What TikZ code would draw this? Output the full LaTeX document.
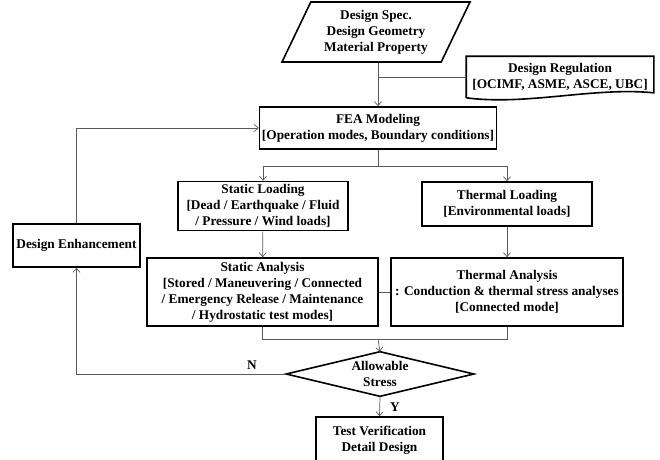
\documentclass[tikz,border=0pt]{standalone}
\usepackage{fontspec}
\setmainfont{Liberation Serif}
\definecolor{linegray}{RGB}{90, 90, 90}
\usetikzlibrary{arrows.meta,positioning,shapes.geometric}

\begin{document}
\begin{tikzpicture}[x=1pt, y=-1pt,
    box/.style={rectangle, draw, line width=1.6pt, align=center, inner sep=1pt,
        font=\fontsize{13.3}{16}\selectfont\bfseries},
    conn/.style={draw=linegray, line width=0.7pt},
    tip/.style={-{Straight Barb[length=4pt, width=7pt]}}]
    \clip (0,0) rectangle (660,459);
    \node[box, trapezium, trapezium left angle=58, trapezium right angle=122,
        trapezium stretches body, minimum width=188pt, minimum height=60pt] (spec) at (376,32)
        {Design Spec.\\Design Geometry\\Material Property};
    \node[box, draw=none, minimum width=186pt, minimum height=40pt] (reg) at (560,77)
        {Design Regulation\\{[}OCIMF, ASME, ASCE, UBC{]}};
    \draw[line width=1.6pt] (reg.south west) -- (reg.north west) -- (reg.north east)
        -- ([yshift=5pt]reg.south east) .. controls +(-60,-6) and +(60,8) .. (reg.south west);
    \node[box, minimum width=237pt, minimum height=42pt] (fea) at (378,128)
        {FEA Modeling\\{[}Operation modes, Boundary conditions{]}};
    \node[box, minimum width=170pt, minimum height=49pt] (sload) at (263,206)
        {Static Loading\\{[}Dead / Earthquake / Fluid\\/ Pressure / Wind loads{]}};
    \node[box, minimum width=170pt, minimum height=44pt] (tload) at (507,204)
        {Thermal Loading\\{[}Environmental loads{]}};
    \node[box, minimum width=231pt, minimum height=68pt] (sana) at (262.5,292)
        {Static Analysis\\{[}Stored / Maneuvering / Connected\\/ Emergency Release / Maintenance\\/ Hydrostatic test modes{]}};
    \node[box, minimum width=232pt, minimum height=68pt] (tana) at (507,292)
        {Thermal Analysis\\: Conduction \& thermal stress analyses\\{[}Connected mode{]}};
    \node[box, draw=none, inner sep=0pt, minimum width=186pt, minimum height=43pt] (allow) at (380,374)
        {Allowable\\Stress};
    \draw[line width=1.6pt] (allow.west) -- (allow.north) -- (allow.east) -- (allow.south) -- cycle;
    \node[box, minimum width=127pt, minimum height=43pt] (enh) at (76.5,245.5)
        {Design Enhancement};
    \node[box, minimum width=127pt, minimum height=46pt] (test) at (379.5,440)
        {Test Verification\\Detail Design};

    \coordinate (split) at (378,166);
    \coordinate (merge) at (378,339);
    \draw[conn, tip] (spec.south -| fea.north) -- (fea.north);
    \draw[conn] (reg.west) -- (reg.west -| fea.north);
    \draw[conn] (fea.south) -- (split);
    \draw[conn, tip] (split) -| (sload.north);
    \draw[conn, tip] (split) -| (tload.north);
    \draw[conn, tip] (sload) -- (sana);
    \draw[conn, tip] (tload) -- (tana);
    \draw[conn] (sana.east) -- (tana.west);
    \draw[conn] (sana.south) |- (merge);
    \draw[conn] (tana.south) |- (merge);
    \draw[conn, tip] (merge) -- (allow.north);
    \draw[conn, tip] (allow.west) -| (enh.south);
    \draw[conn, tip] (enh.north) |- (fea.west);
    \draw[conn, tip] (allow.south) -- (test.north);
    \node[font=\fontsize{13.3}{16}\selectfont\bfseries] (nlabel) at (252,365) {N};
    \node[font=\fontsize{13.3}{16}\selectfont\bfseries] (ylabel) at (395,407) {Y};
\end{tikzpicture}
\end{document}
